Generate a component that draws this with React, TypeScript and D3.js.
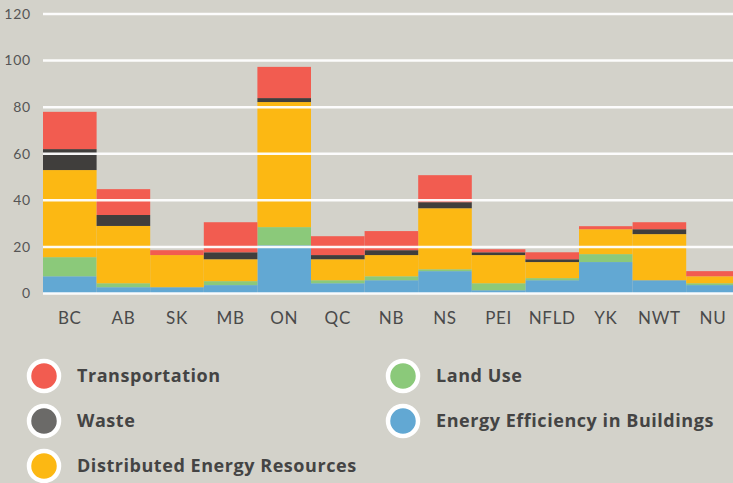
import React, { useEffect, useRef } from "react";
import * as d3 from "d3";

// provinces / territories along the x axis
const provinces = ["BC", "AB", "SK", "MB", "ON", "QC", "NB", "NS", "PEI", "NFLD", "YK", "NWT", "NU"];

// stacked series, bottom to top
const efficiency = [7.4, 2.7, 2.7, 3.6, 20.7, 4.4, 5.7, 9.6, 1.4, 5.7, 13.5, 5.7, 3.6];
const landUse = [8.2, 1.7, 0, 1.7, 7.8, 1.3, 1.7, 0.8, 3.0, 0.9, 3.4, 0, 0.8];
const distributed = [37.4, 24.6, 13.8, 9.4, 53.7, 9.0, 9.1, 26.2, 12.1, 6.9, 10.7, 19.8, 3.0];
const waste = [9.0, 4.7, 0, 3.0, 1.7, 1.8, 2.1, 2.6, 1.2, 1.2, 0, 2.1, 0];
const transportation = [16.0, 11.1, 2.1, 12.9, 13.4, 8.1, 8.2, 11.6, 1.3, 3.0, 1.3, 3.0, 2.2];

const yTicks = [0, 20, 40, 60, 80, 100, 120];

const seriesKeys = ["efficiency", "landUse", "distributed", "waste", "transportation"];
const seriesValues = [efficiency, landUse, distributed, waste, transportation];
const colors = ["#62a8d3", "#8bc97a", "#fcb813", "#403e3c", "#f25c50"];

// legend, in display order (column by column)
const legendItems = [
  { label: "Transportation", color: "#f25c50" },
  { label: "Waste", color: "#6b6a68" },
  { label: "Distributed Energy Resources", color: "#fcb813" },
  { label: "Land Use", color: "#8bc97a" },
  { label: "Energy Efficiency in Buildings", color: "#62a8d3" },
];

const App = () => {
  const ref = useRef<SVGSVGElement>(null);

  useEffect(() => {
    const width = 733;
    const height = 483;
    const svg = d3.select(ref.current).attr("width", width).attr("height", height);
    svg.selectAll("*").remove();

    svg.append("rect").attr("width", width).attr("height", height).attr("fill", "#d3d2ca");

    const rows = provinces.map((p, i) => {
      const row: any = { province: p };
      seriesKeys.forEach((k, j) => (row[k] = seriesValues[j][i]));
      return row;
    });

    const x = d3
      .scaleBand()
      .domain(provinces)
      .range([43, 43 + 53.6 * provinces.length])
      .padding(0);

    const y = d3.scaleLinear().domain([0, 120]).range([293.5, 14]);

    const stacked = d3.stack().keys(seriesKeys)(rows);

    // bars
    svg
      .append("g")
      .selectAll("g")
      .data(stacked)
      .join("g")
      .attr("fill", (d, i) => colors[i])
      .selectAll("rect")
      .data((d) => d)
      .join("rect")
      .attr("x", (d: any) => x(d.data.province))
      .attr("width", x.bandwidth())
      .attr("y", (d) => y(d[1]))
      .attr("height", (d) => y(d[0]) - y(d[1]));

    // gridlines sit on top of the bars
    svg
      .append("g")
      .selectAll("line")
      .data(yTicks)
      .join("line")
      .attr("x1", 43)
      .attr("x2", width)
      .attr("y1", (d) => y(d))
      .attr("y2", (d) => y(d))
      .style("stroke", "#ffffff")
      .style("stroke-width", 2.5)
      .style("opacity", 0.95);

    // y labels
    svg
      .append("g")
      .selectAll("text")
      .data(yTicks)
      .join("text")
      .attr("x", 31)
      .attr("y", (d) => y(d))
      .attr("dy", "0.35em")
      .attr("text-anchor", "end")
      .text((d) => d)
      .style("font-family", "Lato, sans-serif")
      .style("font-size", "14px")
      .style("letter-spacing", "0.8px")
      .style("fill", "#555");

    // x labels
    svg
      .append("g")
      .selectAll("text")
      .data(provinces)
      .join("text")
      .attr("x", (d) => x(d)! + x.bandwidth() / 2)
      .attr("y", 324)
      .attr("text-anchor", "middle")
      .text((d) => d)
      .style("font-family", "Lato, sans-serif")
      .style("font-size", "17px")
      .style("letter-spacing", "0.7px")
      .style("fill", "#4a4a4a");

    // legend
    const legend = svg.append("g");
    legendItems.forEach((item, i) => {
      const col = i < 3 ? 0 : 1;
      const row = i < 3 ? i : i - 3;
      const cx = col === 0 ? 44 : 403;
      const cy = 376 + row * 45;
      legend
        .append("circle")
        .attr("cx", cx)
        .attr("cy", cy)
        .attr("r", 15)
        .style("fill", item.color)
        .style("stroke", "#ffffff")
        .style("stroke-width", 4.5);
      legend
        .append("text")
        .attr("x", cx + 33)
        .attr("y", cy)
        .attr("dy", "0.35em")
        .text(item.label)
        .style("font-family", "'Open Sans', sans-serif")
        .style("font-weight", "bold")
        .style("font-size", "18px")
        .style("letter-spacing", "0.55px")
        .style("fill", "#444");
    });
  }, []);

  return (
    <svg ref={ref} style={{ position: "absolute", left: 0, top: 0, display: "block" }}></svg>
  );
};

export default App;
